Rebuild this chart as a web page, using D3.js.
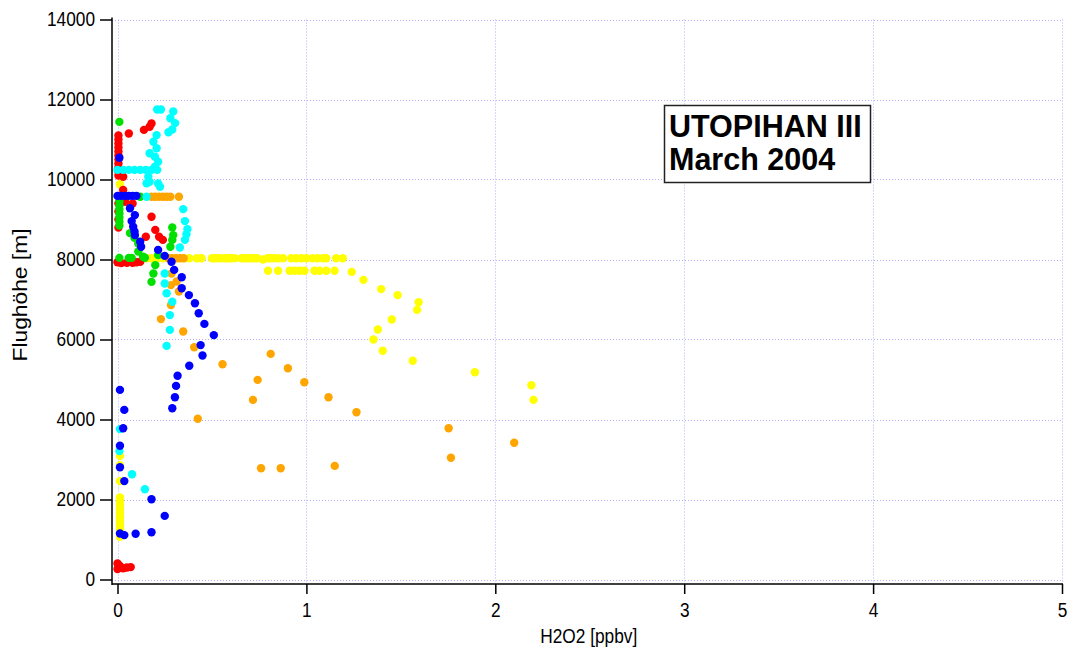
<!DOCTYPE html>
<html><head><meta charset="utf-8">
<script src="https://cdn.jsdelivr.net/npm/d3@7"></script>
<style>
body{margin:0;background:#fff;}
text{font-family:"Liberation Sans",Arial,sans-serif;}
</style></head>
<body><svg id="c" width="1075" height="655"></svg>
<script>
// ---- data: [H2O2 ppbv, altitude m] ----
const xTicks = [0,1,2,3,4,5];
const yTicks = [0,2000,4000,6000,8000,10000,12000,14000];

const yellowPts = [
 [0.013,9880],
 [0.156,8030],[0.18,8030],[0.21,8030],[0.24,8030],[0.28,8030],[0.31,8030],[0.35,8030],[0.38,8030],[0.42,8030],[0.445,8030],[0.5,8030],[0.515,8030],[0.53,8030],[0.55,8030],[0.57,8030],[0.585,8030],[0.6,8030],[0.62,8030],[0.656,8030],[0.675,8030],[0.69,8030],[0.71,8030],[0.725,8030],[0.74,8030],[0.77,8000],[0.795,8030],[0.81,8030],[0.83,8030],[0.85,8030],[0.876,8030],[0.92,8030],[0.946,8030],[0.973,8030],[1.0,8030],[1.034,8030],[1.06,8030],[1.087,8030],[1.105,8030],[1.158,8030],[1.193,8030],
 [0.797,7720],[0.85,7720],[0.911,7720],[0.937,7720],[0.964,7720],[0.99,7720],[1.043,7720],[1.07,7720],[1.105,7720],[1.149,7720],
 [1.24,7690],[1.302,7490],[1.396,7260],[1.483,7110],[1.594,6930],[1.586,6740],[1.452,6500],[1.378,6250],[1.355,6000],[1.404,5720],[1.563,5470],[1.892,5180],[2.191,4855],[2.202,4490],
 [0.013,3090],[0.013,2860],[0.013,2460],
 [0.013,2050],[0.013,1950],[0.013,1850],[0.013,1750],[0.013,1650],[0.013,1550],[0.013,1450],[0.013,1350],[0.013,1250],[0.013,1150],[0.013,1070]
];
const orangePts = [
 [0.18,9570],[0.2,9570],[0.22,9570],[0.24,9570],[0.26,9570],[0.28,9570],[0.325,9570],
 [0.27,8030],[0.29,8030],[0.31,8030],[0.33,8030],[0.35,8030],
 [0.286,7650],[0.313,7450],[0.283,7360],[0.325,7200],[0.283,6860],[0.23,6510],[0.348,6200],[0.406,5805],
 [0.556,5380],[0.811,5640],[0.902,5280],[0.742,4990],[0.989,4930],[0.717,4490],[1.117,4555],[1.265,4180],[0.425,4020],
 [1.753,3780],[2.10,3420],[1.765,3045],[0.76,2780],[0.864,2780],[1.15,2840]
];
const redPts = [
 [0.06,11150],[0.14,11240],[0.17,11320],[0.18,11400],
 [0.005,11100],[0.005,11000],[0.005,10900],[0.005,10800],[0.005,10700],[0.005,10600],[0.005,10500],[0.005,10400],[0.005,10300],[0.005,10200],[0.005,10100],[0.03,10070],
 [0.03,9740],[0.04,9440],[0.08,9400],[0.18,9070],[0.2,8740],[0.22,8570],[0.24,8490],[0.15,8570],
 [0.005,9400],[0.005,9200],[0.005,9000],[0.005,8800],
 [0.0,7930],[0.02,7910],[0.05,7920],[0.08,7920],[0.1,7930],[0.12,7940],
 [0.0,400],[0.01,350],[0.02,300],[0.03,280],[0.05,300],[0.07,310],[0.0,260]
];
const greenPts = [
 [0.01,11440],
 [0.01,9550],[0.01,9450],[0.01,9350],[0.01,9250],[0.01,9150],[0.01,9050],[0.01,8950],[0.01,8850],
 [0.12,9570],
 [0.066,8660],[0.09,8540],[0.11,8400],[0.11,8200],[0.135,8070],
 [0.01,8040],[0.06,8040],[0.075,8040],[0.145,8045],
 [0.29,8800],[0.295,8610],[0.29,8490],[0.28,8320],[0.215,8110],[0.2,7860],[0.19,7650],[0.18,7440]
];
const cyanPts = [
 [0.21,11750],[0.23,11750],[0.295,11700],[0.28,11530],[0.305,11410],[0.29,11250],[0.27,11180],
 [0.207,11110],[0.19,10945],[0.207,10780],[0.17,10655],[0.198,10570],[0.215,10445],[0.198,10320],
 [0.0,10240],[0.03,10240],[0.06,10240],[0.09,10240],[0.12,10240],[0.15,10240],[0.18,10240],[0.21,10240],
 [0.163,10070],[0.17,9945],[0.154,9905],[0.215,9900],[0.225,9820],
 [0.154,9570],
 [0.348,9260],[0.357,8960],[0.37,8760],[0.365,8630],[0.357,8490],[0.33,8300],
 [0.25,7650],[0.25,7400],[0.26,7155],[0.29,6945],[0.277,6610],[0.277,6240],[0.26,5840],
 [0.013,3760],[0.01,3210],[0.077,2630],[0.145,2255]
];
const bluePts = [
 [0.01,10545],
 [0.0,9590],[0.02,9590],[0.04,9590],[0.06,9590],[0.08,9590],[0.1,9590],
 [0.066,9280],[0.092,9110],[0.075,8960],[0.083,8820],[0.09,8700],[0.092,8610],[0.12,8445],[0.125,8320],
 [0.215,8240],[0.25,8090],[0.286,7945],[0.30,7740],[0.34,7555],[0.34,7280],[0.378,7110],[0.41,6905],[0.43,6655],[0.46,6390],[0.51,6110],
 [0.44,5860],[0.45,5600],[0.38,5345],[0.318,5095],[0.31,4840],[0.304,4555],[0.29,4280],
 [0.013,4740],[0.036,4240],[0.03,3780],[0.013,3345],[0.013,2805],[0.036,2460],
 [0.18,2005],[0.25,1590],[0.18,1180],[0.096,1145],[0.036,1110],[0.013,1150]
];
const seriesList = [
 {name:"yellow", color:"#ffff00", pts:yellowPts},
 {name:"orange", color:"#ffa500", pts:orangePts},
 {name:"red",    color:"#ff0000", pts:redPts},
 {name:"green",  color:"#00e000", pts:greenPts},
 {name:"cyan",   color:"#00ffff", pts:cyanPts},
 {name:"blue",   color:"#0000ff", pts:bluePts}
];
const titleLines = ["UTOPIHAN III","March 2004"];

// ---- drawing ----
const svg = d3.select("#c");
const x = d3.scaleLinear().domain([0,5]).range([117.5,1062]);
const y = d3.scaleLinear().domain([0,14000]).range([579.5,19.5]);
const axL = 112, axB = 584;
const FS = 19.5, DIGIT = 9.6;

// grid
const grid = svg.append("g").attr("stroke","#b0b0ff").attr("stroke-width",1).attr("stroke-dasharray","1,2");
grid.selectAll("line.v").data(xTicks).join("line")
  .attr("x1",d=>Math.round(x(d))+0.5).attr("x2",d=>Math.round(x(d))+0.5)
  .attr("y1",y(14000)).attr("y2",axB);
grid.selectAll("line.h").data(yTicks).join("line")
  .attr("y1",d=>Math.round(y(d))+0.5).attr("y2",d=>Math.round(y(d))+0.5)
  .attr("x1",axL).attr("x2",x(5));

// points
seriesList.forEach(s=>{
  svg.append("g").selectAll("circle").data(s.pts).join("circle")
    .attr("cx",d=>x(d[0])).attr("cy",d=>y(d[1])).attr("r",4.2)
    .attr("fill",s.color);
});

// axes
const xa = svg.append("g").attr("transform",`translate(0,${axB})`)
  .call(d3.axisBottom(x).tickValues(xTicks).tickSize(10).tickPadding(9).tickSizeOuter(0).tickFormat(d3.format("d")));
const ya = svg.append("g").attr("transform",`translate(${axL},0)`)
  .call(d3.axisLeft(y).tickValues(yTicks).tickSize(12).tickPadding(5).tickSizeOuter(0).tickFormat(d3.format("d")));
[xa,ya].forEach(a=>{
  a.select(".domain").remove();
  a.selectAll(".tick line").attr("stroke","#000").attr("stroke-width",1.5);
  a.selectAll("text").attr("font-size",FS).attr("fill","#000")
   .attr("font-family","Liberation Sans, Arial, sans-serif")
   .attr("textLength",function(){return DIGIT*this.textContent.length;})
   .attr("lengthAdjust","spacingAndGlyphs");
});
svg.append("line").attr("x1",axL).attr("x2",axL).attr("y1",y(14000)-2).attr("y2",axB+1).attr("stroke","#000").attr("stroke-width",1.5);
svg.append("line").attr("x1",axL).attr("x2",x(5)+1).attr("y1",axB).attr("y2",axB).attr("stroke","#000").attr("stroke-width",1.5);

// axis titles
svg.append("text").attr("x",x(2.5)-1).attr("y",643).attr("text-anchor","middle").attr("font-size",FS)
  .attr("textLength",97).attr("lengthAdjust","spacingAndGlyphs").text("H2O2 [ppbv]");
svg.append("text").attr("transform",`translate(27,295) rotate(-90)`).attr("text-anchor","middle").attr("font-size",21)
  .attr("textLength",133).attr("lengthAdjust","spacingAndGlyphs").text("Flughöhe [m]");

// title box
svg.append("rect").attr("x",664.5).attr("y",105.5).attr("width",206).attr("height",77)
  .attr("fill","#fff").attr("stroke","#222").attr("stroke-width",1.5);
svg.append("g").selectAll("text").data(titleLines).join("text")
  .attr("x",669).attr("y",(d,i)=>137+i*33).attr("font-size",30.5).attr("font-weight","bold").text(d=>d);
</script></body></html>
